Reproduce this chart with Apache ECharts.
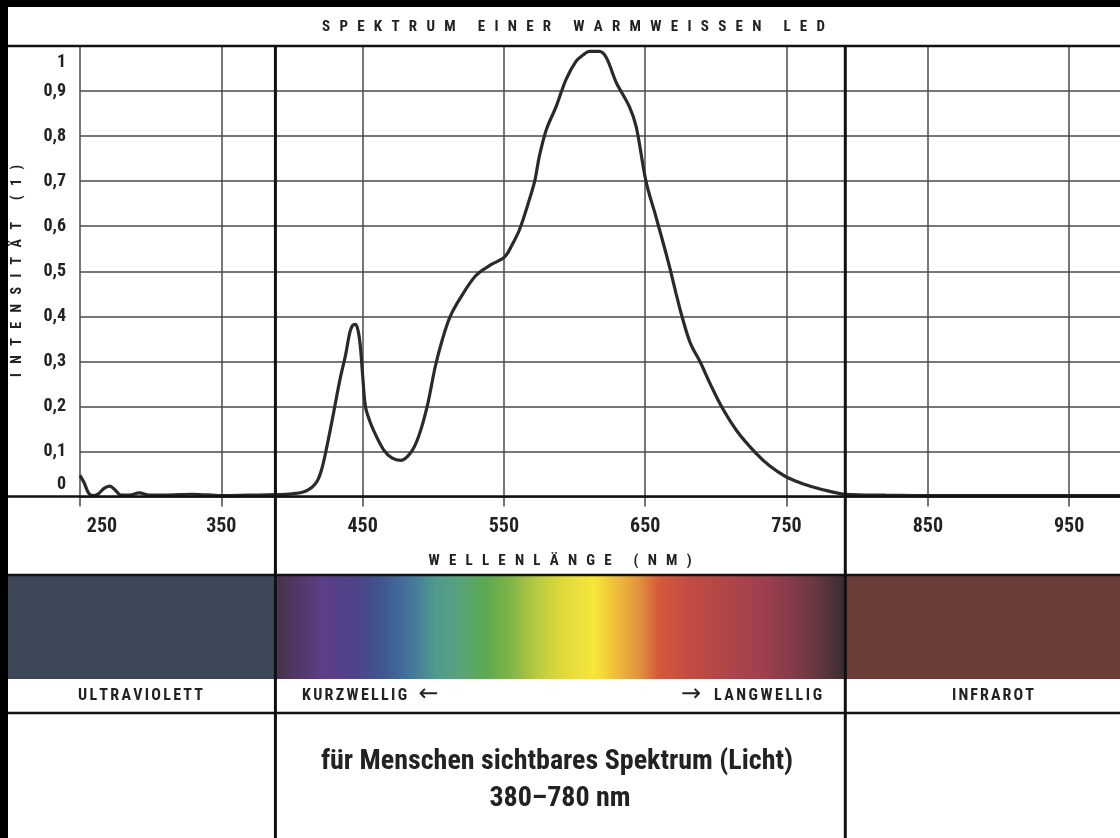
<!DOCTYPE html>
<html><head><meta charset="utf-8">
<script src="https://cdn.jsdelivr.net/npm/echarts@6/dist/echarts.min.js"></script>
<style>html,body{margin:0;padding:0;background:#fff}#c{width:1120px;height:838px}</style>
</head><body><div id="c"></div><script>
const FONT = "'Roboto Condensed', Roboto, 'Liberation Sans', sans-serif";
const INK = '#222222';

// ---- data ----
const wavelengths = [250,253,256,259,263,267,271,275,279,285,292,299,310,330,350,370,388,400,408,414,418,421,424,428.5,434,438,441,443,445,447,448.5,450,452,455,458,465,471,477,484,489.5,495.7,501.4,506.4,512,519,530,540,550.5,556,561,568,572,575,580,587,594,601,606,610.5,617.5,622.5,629.5,638.7,643.6,650.6,657.6,664.6,668,671.7,676,682,689,696,704.3,715,727.8,738,749,760,770,780,791.5,820,860,900,950,986];
const intensity   = [0.047,0.03,0.008,0.002,0.006,0.018,0.023,0.014,0.003,0.003,0.008,0.003,0.003,0.005,0.002,0.003,0.004,0.006,0.01,0.02,0.035,0.06,0.1,0.17,0.26,0.315,0.365,0.38,0.382,0.365,0.33,0.27,0.2,0.168,0.145,0.103,0.085,0.08,0.097,0.132,0.2,0.288,0.348,0.4,0.44,0.49,0.513,0.532,0.56,0.592,0.659,0.703,0.754,0.814,0.866,0.926,0.966,0.98,0.988,0.988,0.974,0.919,0.866,0.821,0.699,0.621,0.541,0.5,0.452,0.4,0.34,0.298,0.25,0.198,0.145,0.098,0.068,0.045,0.03,0.02,0.012,0.005,0.003,0.002,0.002,0.002,0.002];
const xTickValues = [250,350,450,550,650,750,850,950];
const xRange = [250, 986];
const yRange = [0, 1];
const visibleEdges = [388.3, 791.6];   // drawn borders of the visible band

const titleText = 'SPEKTRUM EINER WARMWEISSEN LED';
const xName = 'WELLENLÄNGE (NM)';
const yName = 'INTENSITÄT (1)';
const bandLabels = {uv: 'ULTRAVIOLETT', short: 'KURZWELLIG', long: 'LANGWELLIG', ir: 'INFRAROT'};
const arrows = {left: '←', right: '→'};
const footLines = ['für Menschen sichtbares Spektrum (Licht)', '380–780 nm'];

const chart = echarts.init(document.getElementById('c'), null, {renderer: 'canvas'});
const pairs = wavelengths.map((w, i) => [w, intensity[i]]);

const labelBase = {fontFamily: FONT, fontWeight: 'bold', fontSize: 18, color: INK};

chart.setOption({
  backgroundColor: '#ffffff',
  animation: false,
  grid: {left: 80, right: 0, top: 46, bottom: 341.5, outerBoundsMode: 'none', containLabel: false},
  xAxis: {
    type: 'value', min: xRange[0], max: xRange[1], interval: 100,
    axisLine: {show: false},
    axisTick: {show: true, customValues: xTickValues, length: 10, lineStyle: {color: '#4a4a4a', width: 1.5}},
    axisLabel: {
      customValues: xTickValues, margin: 20,
      fontFamily: FONT, fontWeight: 'bold', fontSize: 20, color: INK,
      formatter: v => v === xRange[0] ? '{l|' + v + '}' : String(v),
      rich: {l: {fontFamily: FONT, fontWeight: 'bold', fontSize: 20, color: INK, padding: [0, 0, 0, 44]}}
    },
    splitLine: {show: true, lineStyle: {color: '#4a4a4a', width: 1.5}}
  },
  yAxis: {
    type: 'value', min: yRange[0], max: yRange[1], interval: 0.1,
    axisLine: {show: false}, axisTick: {show: false},
    axisLabel: {
      margin: 14, ...labelBase,
      formatter: v => {
        if (v === 1) return '{o|1}';
        if (v === 0) return '{z|0}';
        return v.toFixed(1).replace('.', ',');
      },
      rich: {o: {...labelBase, padding: [32, 0, 0, 0]}, z: {...labelBase, padding: [0, 0, 24, 0]}}
    },
    splitLine: {show: true, lineStyle: {color: '#4a4a4a', width: 1.5}}
  },
  series: [{
    type: 'line', data: pairs, smooth: 0.35, showSymbol: false, z: 5,
    lineStyle: {color: '#2a2a2a', width: 3.2}
  }]
});

// ---- decoration: borders, band, texts ----
const W = 1120, H = 838;
const xL = chart.convertToPixel({xAxisIndex: 0}, visibleEdges[0]);
const xR = chart.convertToPixel({xAxisIndex: 0}, visibleEdges[1]);
const yTop = chart.convertToPixel({yAxisIndex: 0}, yRange[1]);
const yZero = chart.convertToPixel({yAxisIndex: 0}, yRange[0]);
const bandTop = 576, bandBot = 679, rowBot = 713;
const edgeL = 8, edgeT = 7;

const spectrumStops = [
  [276,'#45334a'],[300,'#52376a'],[325,'#5c3f88'],[355,'#4e4288'],[385,'#3f5890'],[410,'#44749a'],
  [435,'#4f9890'],[460,'#57a47a'],[485,'#5ca852'],[510,'#7cb446'],[535,'#b4c842'],[560,'#dcd83c'],
  [595,'#f8e63a'],[615,'#f0c03c'],[640,'#e2923c'],[660,'#d4583c'],[690,'#c24c42'],[725,'#b04648'],
  [760,'#a0404f'],[790,'#883b4a'],[815,'#693842'],[846,'#3a2c2e']
].map(([px, c]) => ({offset: Math.min(1, Math.max(0, (px - 276) / 570)), color: c}));

function hline(y, w) { return {type: 'line', z: 50, shape: {x1: edgeL, y1: y, x2: W, y2: y}, style: {stroke: '#111', lineWidth: w}}; }
function vline(x) { return {type: 'line', z: 51, shape: {x1: x, y1: yTop, x2: x, y2: H}, style: {stroke: '#111', lineWidth: 3}}; }
function txt(text, x, y, size, align, extra) {
  return {type: 'text', z: 60, x: x, y: y,
    style: Object.assign({text: text, fontFamily: FONT, fontWeight: 'bold', fontSize: size, fill: INK,
      align: align || 'center', verticalAlign: 'middle'}, extra || {})};
}
// letter-spaced text: characters spread to fill a given width
const measureCtx = document.createElement('canvas').getContext('2d');
function tracked(str, size, width, cx, cy, rotation) {
  measureCtx.font = 'bold ' + size + 'px ' + FONT;
  const chars = str.split('');
  const ws = chars.map(c => measureCtx.measureText(c).width);
  const sum = ws.reduce((a, b) => a + b, 0);
  const track = (width - sum) / (chars.length - 1);
  let cur = -width / 2;
  const children = chars.map((c, i) => {
    const el = {type: 'text', z: 60, x: cur, y: 0,
      style: {text: c, fontFamily: FONT, fontWeight: 'bold', fontSize: size, fill: INK, align: 'left', verticalAlign: 'middle'}};
    cur += ws[i] + track;
    return el;
  });
  return {type: 'group', x: cx, y: cy, rotation: rotation || 0, children: children};
}
function arrow(ch, cx, cy) {
  return {type: 'text', z: 60, x: cx, y: cy,
    style: {text: ch, fontFamily: 'DejaVu Sans', fontSize: 24, fill: INK, align: 'center', verticalAlign: 'middle'}};
}

const gfx = [
  {type: 'rect', z: 40, shape: {x: edgeL, y: bandTop, width: xL - edgeL, height: bandBot - bandTop}, style: {fill: '#3c4858'}},
  {type: 'rect', z: 40, shape: {x: xL, y: bandTop, width: xR - xL, height: bandBot - bandTop},
    style: {fill: new echarts.graphic.LinearGradient(0, 0, 1, 0, spectrumStops)}},
  {type: 'rect', z: 40, shape: {x: xR, y: bandTop, width: W - xR, height: bandBot - bandTop}, style: {fill: '#6b3d36'}},
  hline(yTop, 2.5), hline(yZero, 2.5), hline(bandTop - 1, 2.5), hline(rowBot, 2.5),
  vline(xL), vline(xR),
  {type: 'rect', z: 70, shape: {x: 0, y: 0, width: edgeL, height: H}, style: {fill: '#000'}},
  {type: 'rect', z: 70, shape: {x: 0, y: 0, width: W, height: edgeT}, style: {fill: '#000'}},
  tracked(titleText, 15, 503, 573.5, 27),
  tracked(xName, 15, 263, 560, 561),
  tracked(yName, 14, 212, 17, 271, Math.PI / 2),
  tracked(bandLabels.uv, 16, 125, 140.5, 696),
  tracked(bandLabels.short, 16, 105, 354.5, 696),
  arrow(arrows.left, 428.5, 695),
  arrow(arrows.right, 691, 695),
  tracked(bandLabels.long, 16, 108, 768, 696),
  tracked(bandLabels.ir, 16, 82, 993, 696),
  txt(footLines[0], 557, 762, 28),
  txt(footLines[1], 560, 799, 28)
];
chart.setOption({graphic: gfx});
</script></body></html>
